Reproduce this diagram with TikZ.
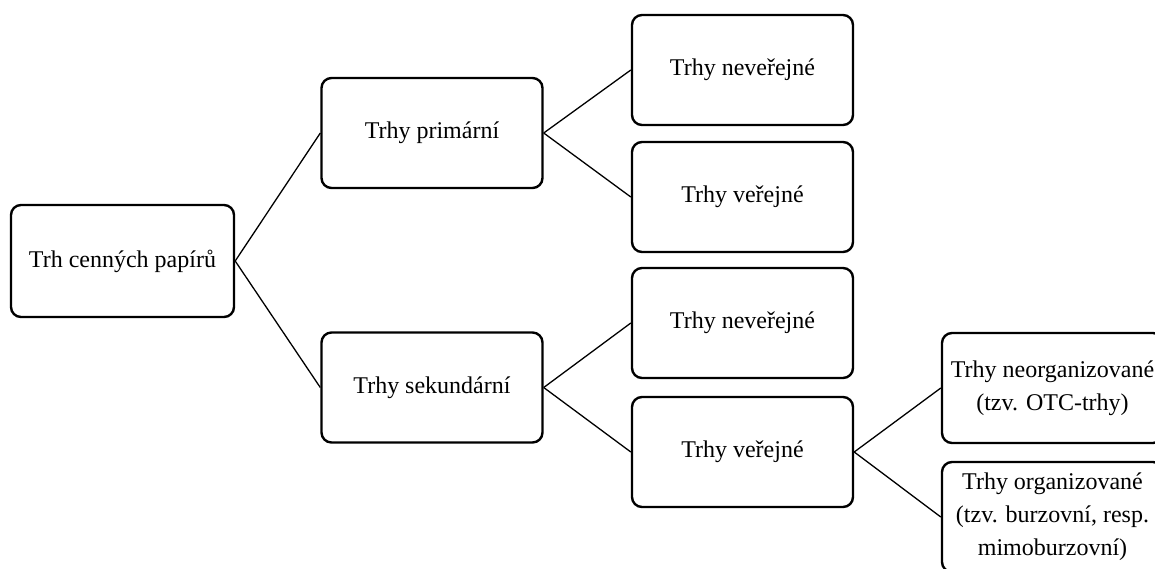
\documentclass[tikz,border=0pt]{standalone}
\usepackage{fontspec}
\setmainfont{Liberation Serif}
\begin{document}
\begin{tikzpicture}[x=1pt,y=-1pt,
  box/.style={draw, line width=2.4pt, rounded corners=10pt, align=center,
    font=\fontsize{24}{33}\selectfont, inner sep=0pt,
    minimum width=221pt, minimum height=110pt},
  conn/.style={line width=1.3pt}]
\useasboundingbox (0,0) rectangle (1155,568);
\clip (0,0) rectangle (1155,568);
\node[box, minimum width=223pt, minimum height=112pt] (root) at (122.5,261) {Trh cenných papírů};
\node[box] (prim) at (432,133) {Trhy primární};
\node[box] (sek) at (432,387.5) {Trhy sekundární};
\node[box] (n1) at (742.5,70) {Trhy neveřejné};
\node[box] (v1) at (742.5,197) {Trhy veřejné};
\node[box] (n2) at (742.5,323) {Trhy neveřejné};
\node[box] (v2) at (742.5,452) {Trhy veřejné};
\node[box] (no) at (1052.5,388) {Trhy neorganizované\\(tzv. OTC-trhy)};
\node[box] (o) at (1052.5,517) {Trhy organizované\\(tzv. burzovní, resp.\\mimoburzovní)};
\draw[conn] (root.east) -- (prim.west);
\draw[conn] (root.east) -- (sek.west);
\draw[conn] (prim.east) -- (n1.west);
\draw[conn] (prim.east) -- (v1.west);
\draw[conn] (sek.east) -- (n2.west);
\draw[conn] (sek.east) -- (v2.west);
\draw[conn] (v2.east) -- (no.west);
\draw[conn] (v2.east) -- (o.west);
\end{tikzpicture}
\end{document}
